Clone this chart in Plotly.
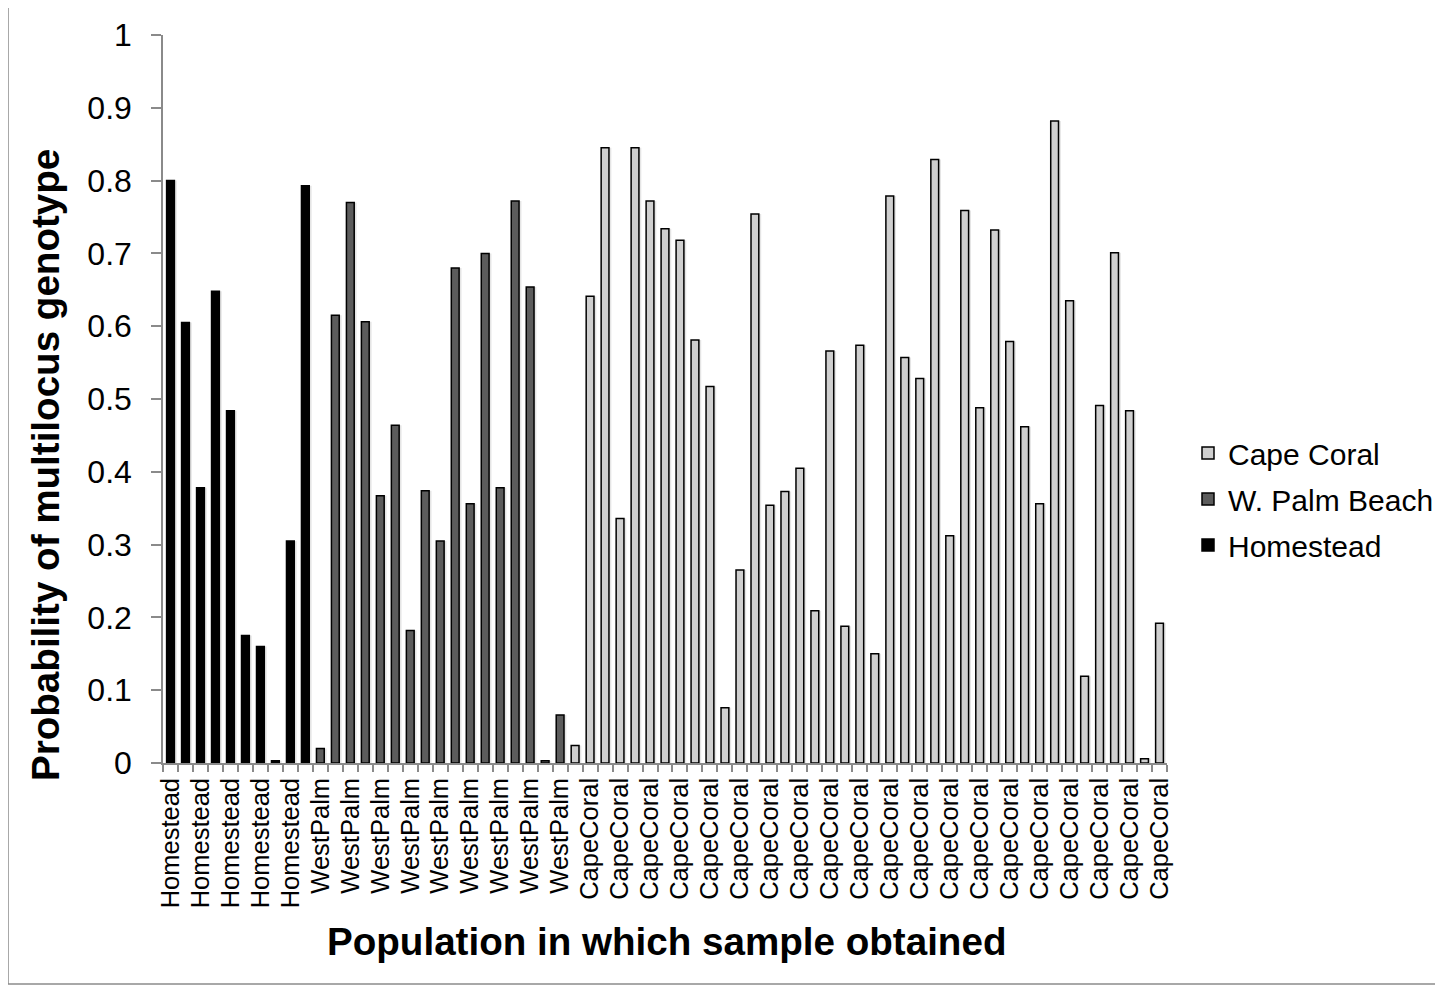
import plotly.graph_objects as go

# ---- data ----
homestead_labels = ["Homestead"] * 10
homestead_values = [0.800, 0.605, 0.378, 0.648, 0.484, 0.175, 0.160, 0.003, 0.305, 0.793]

westpalm_labels = ["WestPalm"] * 17
westpalm_values = [0.020, 0.615, 0.770, 0.606, 0.367, 0.464, 0.182, 0.374, 0.305,
                   0.680, 0.356, 0.700, 0.378, 0.772, 0.654, 0.003, 0.066]

capecoral_labels = ["CapeCoral"] * 40
capecoral_values = [0.024, 0.641, 0.845, 0.336, 0.845, 0.772, 0.734, 0.718, 0.581, 0.517,
                    0.076, 0.265, 0.754, 0.354, 0.373, 0.405, 0.209, 0.566, 0.188, 0.574,
                    0.150, 0.779, 0.557, 0.528, 0.829, 0.312, 0.759, 0.488, 0.732, 0.579,
                    0.462, 0.356, 0.882, 0.635, 0.119, 0.491, 0.701, 0.484, 0.006, 0.192]

series_names = ["Homestead", "W. Palm Beach", "Cape Coral"]
series_colors = ["#000000", "#5c5c5c", "#cfcfcf"]

y_tick_values = [i / 10 for i in range(11)]

# ---- build category positions ----
all_labels = homestead_labels + westpalm_labels + capecoral_labels
n_cat = len(all_labels)
series_values = [homestead_values, westpalm_values, capecoral_values]

FONT = "Arial, Liberation Sans, sans-serif"
BAR_W = 0.52

# page body has an 8px margin; figure is sized/positioned to compensate
OFF = 8
W, H = 1443 - OFF, 987 - OFF
PL, PR, PT, PB = 163 - OFF, 1167 - OFF, 35 - OFF, 763 - OFF  # plot area in figure px


def px_x(sx):  # screen x -> paper x
    return (sx - OFF - PL) / (PR - PL)


def px_y(sy):  # screen y -> paper y
    return (PB - (sy - OFF)) / (PB - PT)


fig = go.Figure()

start = 1
positions = []
for vals in series_values:
    positions.append(list(range(start, start + len(vals))))
    start += len(vals)

# soft shadow bars (Excel-like shadow effect)
for xs, vals in zip(positions, series_values):
    fig.add_trace(go.Bar(
        x=xs, y=vals, width=BAR_W, offset=-BAR_W / 2 + 0.16,
        marker=dict(color="rgba(0,0,0,0.10)", line=dict(width=0)),
        showlegend=False, hoverinfo="skip"))

# main bars, legend ordered Cape Coral, W. Palm Beach, Homestead
for idx in [2, 1, 0]:
    fig.add_trace(go.Bar(
        x=positions[idx], y=series_values[idx], name=series_names[idx],
        width=BAR_W, offset=-BAR_W / 2,
        marker=dict(color=series_colors[idx], line=dict(color="#000000", width=1.5)),
        legendgroup=series_names[idx]))

tickvals = list(range(1, n_cat + 1, 2))
ticktext = [all_labels[i - 1] for i in tickvals]
boundaries = [i + 0.5 for i in range(0, n_cat + 1)]

fig.update_layout(
    width=W, height=H,
    paper_bgcolor="white", plot_bgcolor="white",
    barmode="overlay",
    margin=dict(l=PL, r=W - PR, t=PT, b=H - PB, autoexpand=False),
    font=dict(family=FONT, color="#000000"),
    showlegend=True,
    legend=dict(x=px_x(1188), xanchor="left", y=px_y(499), yanchor="middle",
                font=dict(size=30, family=FONT), traceorder="grouped",
                tracegroupgap=4, bgcolor="rgba(0,0,0,0)"),
    xaxis=dict(
        range=[0.5, n_cat + 0.5], tickmode="array", tickvals=tickvals, ticktext=ticktext,
        tickangle=-90, tickfont=dict(size=25.5, family=FONT), ticks="",
        ticklabelstandoff=3,
        showline=True, linecolor="#8a8a8a", linewidth=1.5, showgrid=False, zeroline=False,
        minor=dict(tickmode="array", tickvals=boundaries, ticks="outside", ticklen=7,
                   tickcolor="#8a8a8a", tickwidth=1.5, showgrid=False),
    ),
    yaxis=dict(
        range=[0, 1], tickmode="array", tickvals=y_tick_values,
        ticktext=[("%g" % v) for v in y_tick_values],
        tickfont=dict(size=32, family=FONT), ticks="outside", ticklen=10,
        tickcolor="#8a8a8a", tickwidth=1.5, ticklabelstandoff=13,
        showline=True, linecolor="#8a8a8a", linewidth=1.5, showgrid=False, zeroline=False,
    ),
    annotations=[
        dict(text="<b>Population in which sample obtained</b>", xref="paper", yref="paper",
             x=px_x(666), y=px_y(941), xanchor="center", yanchor="middle",
             showarrow=False, font=dict(size=38.6, family=FONT, color="#000000")),
        dict(text="<b>Probability of multilocus genotype</b>", xref="paper", yref="paper",
             x=px_x(45), y=px_y(465), xanchor="center", yanchor="middle",
             textangle=-90, showarrow=False, font=dict(size=38.6, family=FONT, color="#000000")),
    ],
    shapes=[
        dict(type="rect", xref="paper", yref="paper",
             x0=px_x(8), x1=px_x(1440), y0=px_y(984), y1=px_y(6),
             line=dict(color="#8c8c8c", width=1.5), fillcolor="rgba(0,0,0,0)", layer="below"),
    ],
)

fig.write_html("out.html")
